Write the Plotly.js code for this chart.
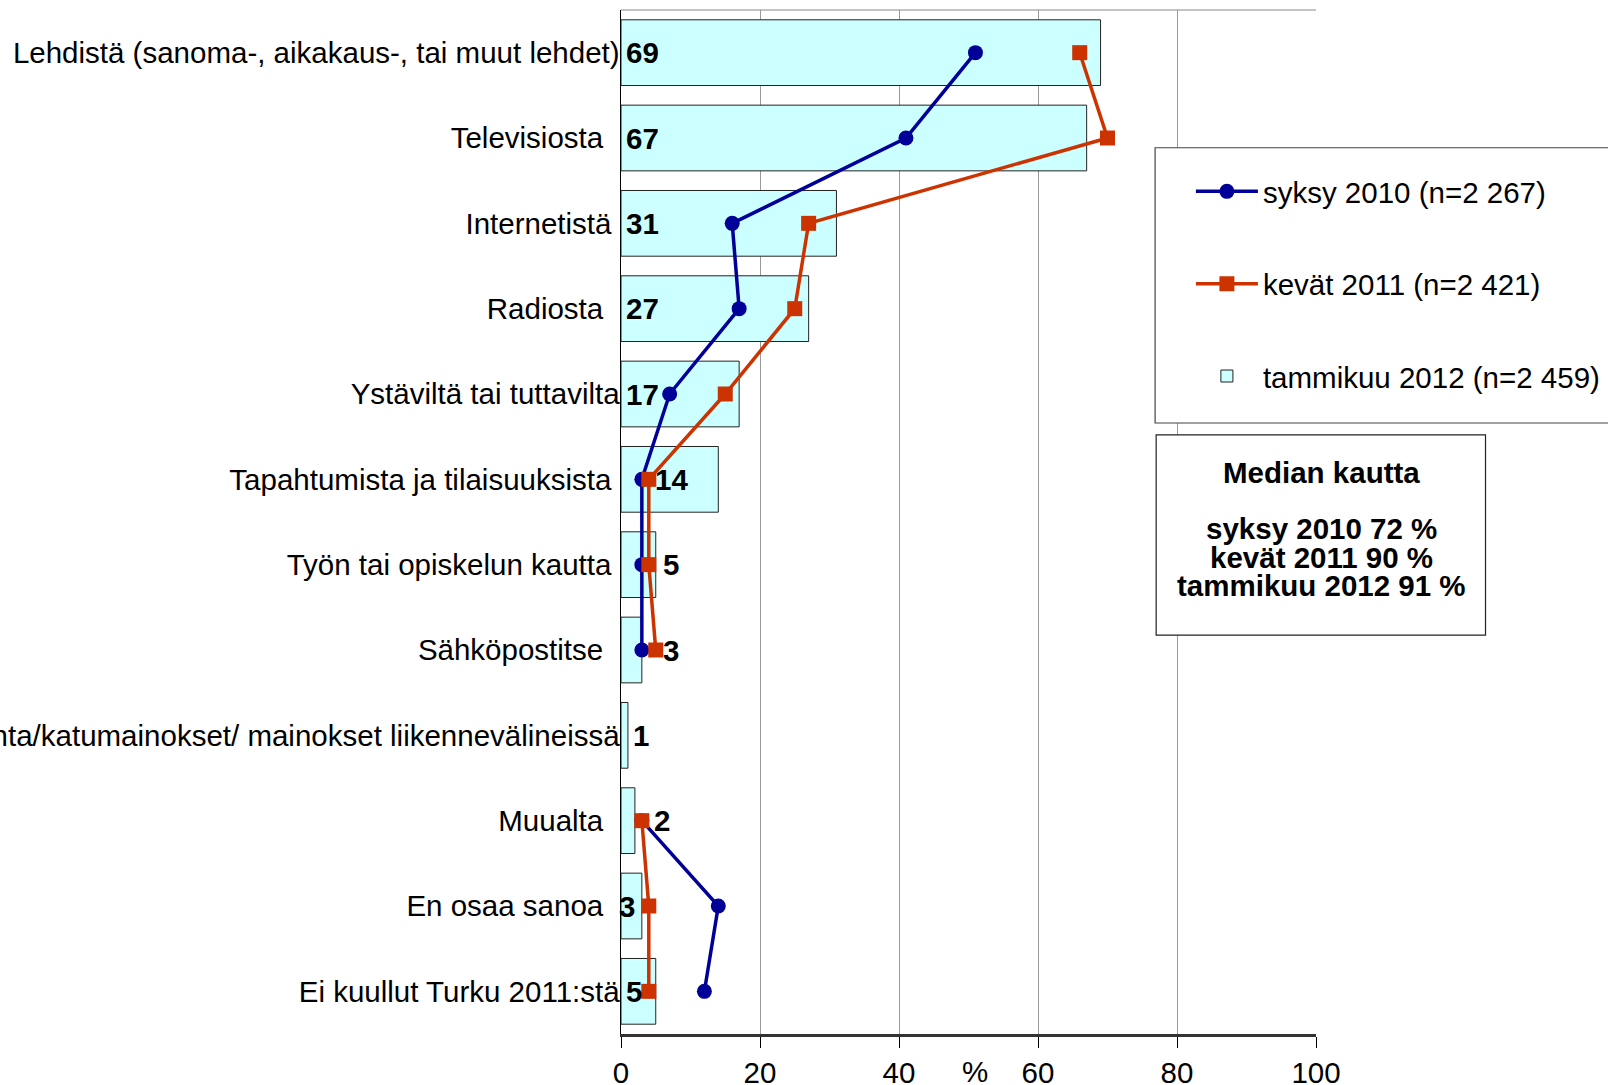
<!DOCTYPE html>
<html>
<head>
<meta charset="utf-8">
<script src="https://cdn.plot.ly/plotly-3.0.1.min.js"></script>
<style>html,body{margin:0;padding:0;background:#fff;}#chart{width:1608px;height:1085px;}</style>
</head>
<body>
<div id="chart"></div>
<script>
// ---- data ----
var categories = [
  "Lehdistä (sanoma-, aikakaus-, tai muut lehdet)",
  "Televisiosta",
  "Internetistä",
  "Radiosta",
  "Ystäviltä tai tuttavilta",
  "Tapahtumista ja tilaisuuksista",
  "Työn tai opiskelun kautta",
  "Sähköpostitse",
  "Ulkomainonta/katumainokset/ mainokset liikennevälineissä",
  "Muualta",
  "En osaa sanoa",
  "Ei kuullut Turku 2011:stä"
];
var tammikuu2012 = [69, 67, 31, 27, 17, 14, 5, 3, 1, 2, 3, 5];
var syksy2010 = [51, 41, 16, 17, 7, 3, 3, 3, null, 3, 14, 12];
var kevat2011 = [66, 70, 27, 25, 15, 4, 4, 5, null, 3, 4, 4];
var seriesNames = ["syksy 2010 (n=2 267)", "kevät 2011 (n=2 421)", "tammikuu 2012 (n=2 459)"];
var xTicks = [0, 20, 40, 60, 80, 100];
var medianTitle = "Median kautta";
var medianLines = ["syksy 2010 72 %", "kevät 2011 90 %", "tammikuu 2012 91 %"];
var axisUnit = "%";

// ---- styling (positions, not data) ----
var labelShift = [3, 3, 3, 3, 3, 32, 40, 40, 10, 31, -4, 3];
var tickPad = [0, 2, 1, 2, 0, 1, 1, 2, 0, 2, 2, 0]; // trailing gap of each category label
var FONT = "Liberation Sans, Arial, sans-serif";
var FS = 29.5;

var tickText = categories.map(function (c, k) {
  return c + "\u00A0".repeat(tickPad[k]);
});

var traces = [
  {
    type: "bar", orientation: "h", y: categories, x: tammikuu2012,
    name: seriesNames[2], legendgroup: "c", legendrank: 3,
    width: 0.77,
    marker: {color: "#CCFFFF", line: {color: "#222", width: 1}},
    hoverinfo: "x"
  },
  {
    type: "scatter", mode: "lines+markers", y: categories, x: syksy2010,
    name: seriesNames[0], legendgroup: "a", legendrank: 1,
    connectgaps: false,
    line: {color: "#000099", width: 3.5},
    marker: {symbol: "circle", size: 15, color: "#000099"}
  },
  {
    type: "scatter", mode: "lines+markers", y: categories, x: kevat2011,
    name: seriesNames[1], legendgroup: "b", legendrank: 2,
    connectgaps: false,
    line: {color: "#CC3300", width: 3.5},
    marker: {symbol: "square", size: 15, color: "#CC3300"}
  }
];

var annotations = [];
for (var i = 0; i < categories.length; i++) {
  annotations.push({
    x: 0, y: categories[i], xref: "x", yref: "y",
    text: "<b>" + tammikuu2012[i] + "</b>",
    showarrow: false, xanchor: "left", yanchor: "middle",
    xshift: labelShift[i],
    font: {family: FONT, size: FS, color: "#000"}
  });
}
annotations.push({
  x: 51, y: -0.037, xref: "x", yref: "paper", text: axisUnit,
  showarrow: false, xanchor: "center", yanchor: "middle",
  font: {family: FONT, size: FS, color: "#000"}
});
var medY = [0.548, 0.4932, 0.4658, 0.4384];
var medTexts = [medianTitle].concat(medianLines);
for (var j = 0; j < medTexts.length; j++) {
  annotations.push({
    x: 1.0073, y: medY[j], xref: "paper", yref: "paper",
    text: "<b>" + medTexts[j] + "</b>",
    showarrow: false, xanchor: "center", yanchor: "middle",
    font: {family: FONT, size: FS, color: "#000"}
  });
}

var shapes = [
  // top frame line
  {type: "line", xref: "paper", yref: "paper", x0: 0, x1: 1, y0: 1, y1: 1,
   line: {color: "#888", width: 1}},
  // legend box
  {type: "rect", xref: "paper", yref: "paper", x0: 0.7685, x1: 1.46, y0: 0.5967, y1: 0.8655,
   fillcolor: "#fff", line: {color: "#444", width: 1.2}, layer: "above"},
  // median box
  {type: "rect", xref: "paper", yref: "paper", x0: 0.770, x1: 1.2439, y0: 0.3896, y1: 0.585,
   fillcolor: "#fff", line: {color: "#222", width: 1.2}, layer: "above"}
];

var layout = {
  width: 1608, height: 1085,
  margin: {l: 621, r: 292, t: 10, b: 51, pad: 0, autoexpand: false},
  paper_bgcolor: "#fff", plot_bgcolor: "#fff",
  font: {family: FONT, size: FS, color: "#000"},
  showlegend: true,
  legend: {
    x: 0.82, y: 0.848, xanchor: "left", yanchor: "top",
    bgcolor: "rgba(0,0,0,0)", borderwidth: 0,
    traceorder: "grouped", tracegroupgap: 51,
    itemwidth: 62,
    font: {family: FONT, size: FS, color: "#000"}
  },
  xaxis: {
    range: [0, 100], tickvals: xTicks, ticktext: xTicks.map(String),
    showgrid: true, gridcolor: "#9a9a9a", gridwidth: 1,
    zeroline: false, showline: true, linecolor: "#333", linewidth: 2.5,
    ticks: "outside", ticklen: 11, tickcolor: "#000", tickwidth: 1,
    tickfont: {family: FONT, size: FS, color: "#000"},
    fixedrange: true
  },
  yaxis: {
    type: "category", autorange: false, range: [11.5, -0.5],
    tickvals: categories, ticktext: tickText,
    showgrid: false, zeroline: false, showline: true, linecolor: "#000", linewidth: 1.5,
    ticks: "", ticklabelstandoff: -6,
    tickfont: {family: FONT, size: FS, color: "#000"},
    fixedrange: true
  },
  bargap: 0.23,
  annotations: annotations,
  shapes: shapes
};

Plotly.newPlot("chart", traces, layout, {displayModeBar: false, staticPlot: true});
</script>
</body>
</html>
